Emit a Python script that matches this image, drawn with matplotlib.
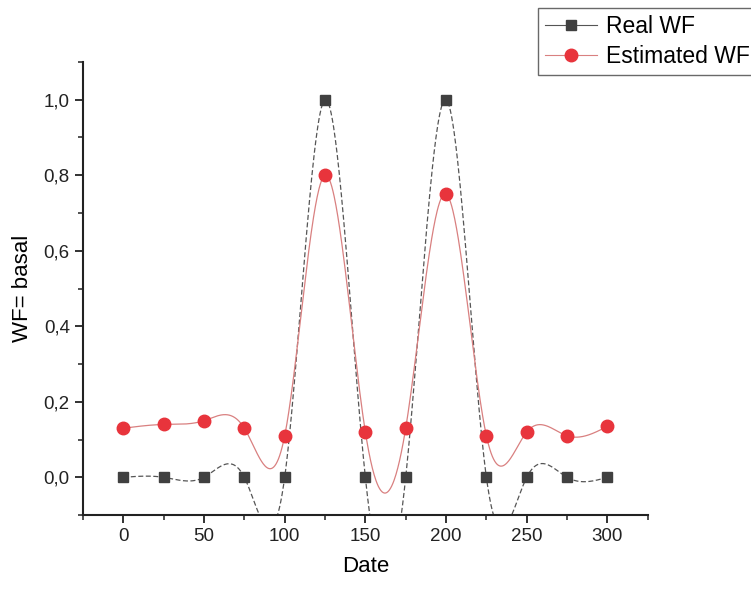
import numpy as np
import matplotlib
matplotlib.use("Agg")
import matplotlib.pyplot as plt
from matplotlib.ticker import MultipleLocator, FixedLocator, FixedFormatter
from matplotlib.lines import Line2D

plt.rcParams['font.family'] = ['Liberation Sans', 'DejaVu Sans']

dates = [0, 25, 50, 75, 100, 125, 150, 175, 200, 225, 250, 275, 300]
real_wf = [0, 0, 0, 0, 0, 1.0, 0, 0, 1.0, 0, 0, 0, 0]
est_wf = [0.13, 0.14, 0.15, 0.13, 0.11, 0.80, 0.12, 0.13, 0.75, 0.11, 0.12, 0.11, 0.135]
y_ticks = [0.0, 0.2, 0.4, 0.6, 0.8, 1.0]
y_ticklabels = ["0,0", "0,2", "0,4", "0,6", "0,8", "1,0"]
x_ticks = [0, 50, 100, 150, 200, 250, 300]


def natural_spline(x, y, n=800):
    x = np.asarray(x, float)
    y = np.asarray(y, float)
    m = len(x)
    h = np.diff(x)
    A = np.zeros((m, m))
    b = np.zeros(m)
    A[0, 0] = 1
    A[-1, -1] = 1
    for i in range(1, m - 1):
        A[i, i - 1] = h[i - 1]
        A[i, i] = 2 * (h[i - 1] + h[i])
        A[i, i + 1] = h[i]
        b[i] = 6 * ((y[i + 1] - y[i]) / h[i] - (y[i] - y[i - 1]) / h[i - 1])
    M = np.linalg.solve(A, b)
    xs = np.linspace(x[0], x[-1], n)
    idx = np.clip(np.searchsorted(x, xs) - 1, 0, m - 2)
    x0, x1 = x[idx], x[idx + 1]
    hh = x1 - x0
    t0 = x1 - xs
    t1 = xs - x0
    ys = (M[idx] * t0**3 / (6 * hh) + M[idx + 1] * t1**3 / (6 * hh)
          + (y[idx] / hh - M[idx] * hh / 6) * t0
          + (y[idx + 1] / hh - M[idx + 1] * hh / 6) * t1)
    return xs, ys


fig = plt.figure(figsize=(7.51, 5.9), dpi=100)
ax = fig.add_axes([0.1105, 0.127, 0.752, 0.768])

xs, ys = natural_spline(dates, real_wf)
ax.plot(xs, ys, color='#555555', lw=0.9, ls=(0, (4, 2)), zorder=2)
xs2, ys2 = natural_spline(dates, est_wf)
ax.plot(xs2, ys2, color='#d98080', lw=0.9, zorder=2)

ax.plot(dates, real_wf, ls='none', marker='s', ms=7.5, color='#404040', zorder=3)
ax.plot(dates, est_wf, ls='none', marker='o', ms=9, color='#e8343c', zorder=3)

ax.set_xlim(-25, 325)
ax.set_ylim(-0.1, 1.1)
ax.spines['top'].set_visible(False)
ax.spines['right'].set_visible(False)
for s in ['left', 'bottom']:
    ax.spines[s].set_linewidth(1.5)
    ax.spines[s].set_color('#222222')

ax.xaxis.set_major_locator(FixedLocator(x_ticks))
ax.xaxis.set_minor_locator(MultipleLocator(25))
ax.yaxis.set_major_locator(FixedLocator(y_ticks))
ax.yaxis.set_major_formatter(FixedFormatter(y_ticklabels))
ax.yaxis.set_minor_locator(MultipleLocator(0.1))
ax.tick_params(which='major', direction='out', length=6, width=1.3, labelsize=13.5, colors='#222222')
ax.tick_params(which='minor', direction='out', length=3.5, width=1.1, colors='#222222')

ax.set_xlabel('Date', fontsize=16, labelpad=8)
ax.set_ylabel('WF= basal', fontsize=16, labelpad=8)

h1 = Line2D([], [], color='#555555', lw=0.8, marker='s', ms=7.5, markerfacecolor='#404040', markeredgecolor='#404040')
h2 = Line2D([], [], color='#d98080', lw=0.8, marker='o', ms=9, markerfacecolor='#e8343c', markeredgecolor='#e8343c')
leg = fig.legend([h1, h2], ['Real WF', 'Estimated WF'], loc='upper left',
                 bbox_to_anchor=(0.716, 0.986), fontsize=16.5, frameon=True, fancybox=False,
                 edgecolor='#444444', handlelength=2.3, borderpad=0.3, labelspacing=0.3,
                 handletextpad=0.4, borderaxespad=0)
leg.get_frame().set_linewidth(1.0)

fig.savefig('out.png', dpi=100)
